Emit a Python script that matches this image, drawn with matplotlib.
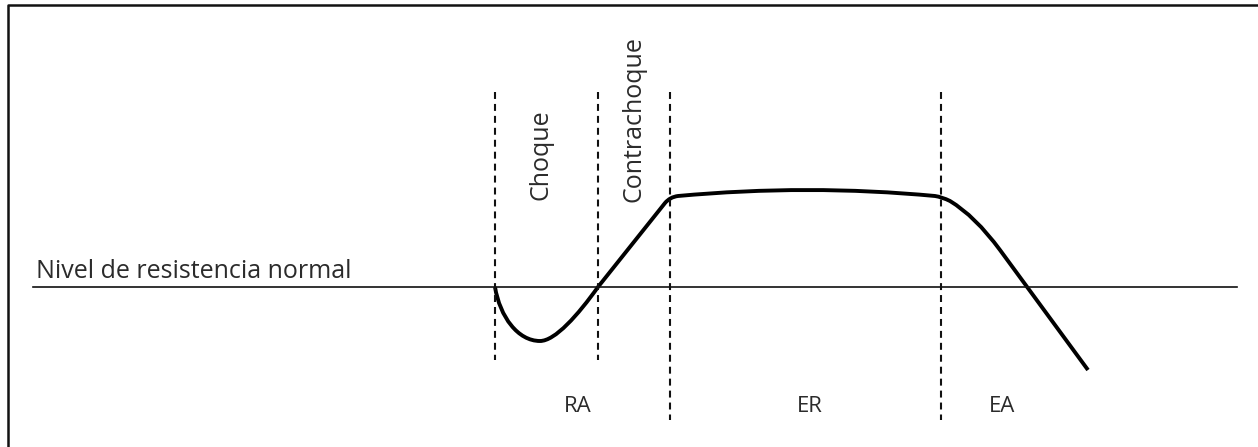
import matplotlib
matplotlib.use("Agg")
import matplotlib.pyplot as plt
from matplotlib.path import Path
from matplotlib.patches import PathPatch

plt.rcParams['font.family'] = ['Open Sans', 'DejaVu Sans']
plt.rcParams['lines.scale_dashes'] = False

# curva de resistencia (x = tiempo, r = nivel respecto al normal)
# puntos de paso y de control (curvas de Bezier)
curve_x = [495, 500, 518, 540, 555, 578, 598, 665, 670, 678, 808, 935, 942, 950, 975, 1000, 1088]
curve_r = [0, -30, -54, -54, -54, -28, 0, 84, 90, 91, 103, 91, 90, 86, 71, 37, -83]
curve_codes = [Path.MOVETO, Path.CURVE4, Path.CURVE4, Path.CURVE4,
               Path.CURVE4, Path.CURVE4, Path.CURVE4, Path.LINETO,
               Path.CURVE3, Path.CURVE3, Path.CURVE3, Path.CURVE3,
               Path.CURVE3, Path.CURVE3, Path.CURVE3, Path.CURVE3, Path.LINETO]

# limites de fases (lineas discontinuas)
phase_x = [495, 598, 670, 941]
phase_bottom = [-73, -73, -133, -133]
phase_top = 195

normal_level = 0
normal_label = "Nivel de resistencia normal"

phase_names = ["RA", "ER", "EA"]
phase_name_x = [578, 810, 1002]

vertical_names = ["Choque", "Contrachoque"]
vertical_x = [541, 634]

fig = plt.figure(figsize=(12.58, 4.47), dpi=100)
ax = fig.add_axes([0, 0, 1, 1])
ax.set_xlim(0, 1258)
ax.set_ylim(-160, 287)
ax.axis("off")

# marco (solo izquierda y arriba)
ax.plot([8, 8, 1258], [-160, 282, 282], color="#111111", lw=1.8, clip_on=False)

# nivel normal
ax.plot([33, 1237], [normal_level, normal_level], color="#111111", lw=1.2)
ax.text(36, 9, normal_label, fontsize=18, color="#2b2b2b", va="baseline", ha="left")

# lineas de fase
for x, b in zip(phase_x, phase_bottom):
    ax.plot([x, x], [phase_top, b], color="#111111", lw=1.5, ls=(0, (5, 3.6)))

# curva
path = Path(list(zip(curve_x, curve_r)), curve_codes)
ax.add_patch(PathPatch(path, facecolor="none", edgecolor="black", lw=2.8,
                       joinstyle="round", capstyle="butt"))

# etiquetas verticales
ax.text(vertical_x[0], 132, vertical_names[0], rotation=90, fontsize=18,
        color="#2b2b2b", ha="center", va="center")
ax.text(vertical_x[1], 168, vertical_names[1], rotation=90, fontsize=18,
        color="#2b2b2b", ha="center", va="center")

# nombres de fases
for name, x in zip(phase_names, phase_name_x):
    ax.text(x, -120, name, fontsize=16, color="#2b2b2b", ha="center", va="center")

plt.savefig("out.png", dpi=100)
